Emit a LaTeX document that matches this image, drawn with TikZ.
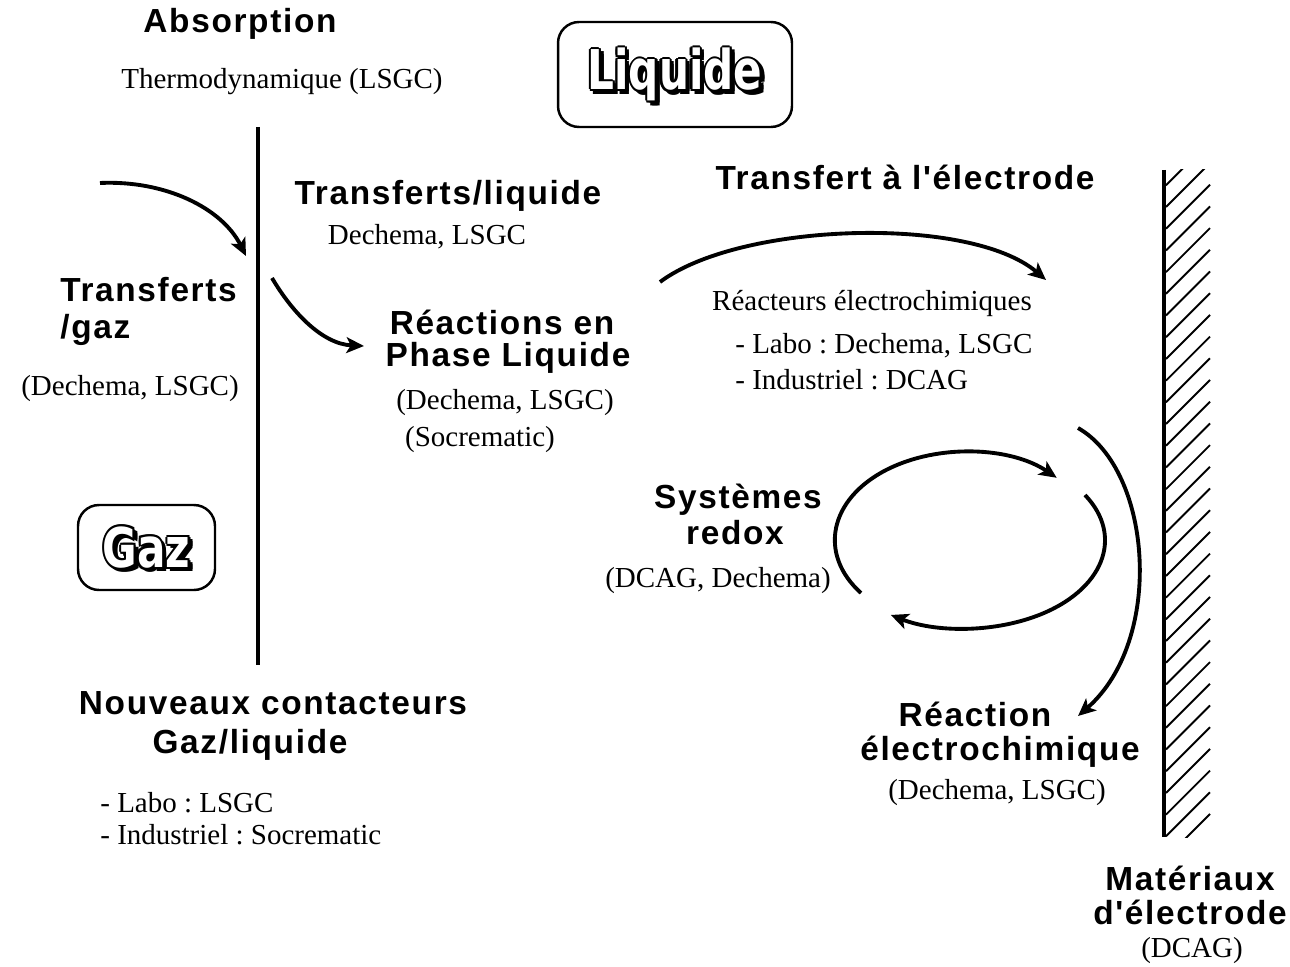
\documentclass[tikz,border=0pt]{standalone}
\usepackage{fontspec}
\usepackage{graphicx}
\setmainfont{Liberation Serif}
\newfontfamily\hdfont{Liberation Sans}[LetterSpace=5]
\newfontfamily\boxfont{DejaVu Sans}
\usetikzlibrary{arrows.meta}
\tikzset{>={Stealth[length=10pt,width=9pt,inset=2.5pt]}}
\tikzset{
  hd/.style={font=\hdfont\bfseries\fontsize{19}{21}\selectfont, inner sep=0pt},
  txt/.style={font=\fontsize{16.5}{18}\selectfont, inner sep=0pt, yshift=-1.5pt},
  flow/.style={->, line width=2.2pt},
  roundbox/.style={draw, line width=1.4pt, rounded corners=0.42cm},
  bigword/.style={font=\boxfont\bfseries\fontsize{24}{28}\selectfont, inner sep=0pt},
}
\newcommand{\tallword}[1]{\scalebox{1}[1.3]{#1}}
\frenchspacing

\begin{document}
\begin{tikzpicture}[x=0.02cm, y=-0.02cm]
    \useasboundingbox (0,0) rectangle (1290,966);

    % phase boxes
    \node[roundbox, minimum width=4.68cm, minimum height=2.1cm] (liqbox) at (675,74.5) {};
    \node[roundbox, minimum width=2.74cm, minimum height=1.7cm] (gazbox) at (146.5,547.5) {};
    \foreach \dx/\dy in {-1.3/0, 1.3/0, 0/1.3, 0/-1.3, -0.9/0.9, 0.9/0.9, -0.9/-0.9, 0.9/-0.9, 1.9/-1.9, 2.5/-2.5, 2.5/-1.3, 1.3/-2.5} {
        \node[bigword, xshift=\dx pt, yshift=\dy pt] at (liqbox) {\tallword{Liquide}};
        \node[bigword, xshift=\dx pt, yshift=\dy pt] at (gazbox) {\tallword{Gaz}};
    }
    \node[bigword, text=white] (liqword) at (liqbox) {\tallword{Liquide}};
    \node[bigword, text=white] (gazword) at (gazbox) {\tallword{Gaz}};

    % gas / liquid interface
    \coordinate (divtop) at (258,127);
    \coordinate (divbot) at (258,665);
    \draw [line width=2.2pt] (divtop) -- (divbot);

    % electrode wall
    \coordinate (eltop) at (1164,170);
    \coordinate (elbot) at (1164,837);
    \begin{scope}
        \clip (1164,170) rectangle (1212,837);
        \foreach \y in {858,836.3,...,150}
            \draw [line width=1.1pt] (1166,\y) -- (1210,\y-44);
    \end{scope}
    \draw [line width=2.8pt] (eltop) -- (elbot);

    % absorption side
    \node[hd] (absn) at (240,24) {Absorption};
    \node[txt] (thermo) at (282,79) {Thermodynamique (LSGC)};
    \node[hd] (trliq) at (448,196) {Transferts/liquide};
    \node[txt] (trliqsrc) at (427,234) {Dechema, LSGC};
    \node[hd, anchor=west] (trgaz) at (60,290) {Transferts};
    \node[hd, anchor=west] (trgaz2) at (60,330) {/gaz};
    \node[txt] (trgazsrc) at (130,386) {(Dechema, LSGC)};
    \node[hd] (reac) at (502,322) {Réactions en};
    \node[hd] (reac2) at (508,358) {Phase Liquide};
    \node[txt] (reacsrc) at (505,400) {(Dechema, LSGC)};
    \node[txt] (reacsrc2) at (480,437) {(Socrematic)};
    \node[hd] (contact) at (273,703) {Nouveaux contacteurs};
    \node[hd] (contact2) at (250,745) {Gaz/liquide};
    \node[txt, anchor=west] (labo1) at (100,800) {- Labo : LSGC};
    \node[txt, anchor=west] (indus1) at (100,832) {- Industriel : Socrematic};

    % electrode side
    \node[hd] (trel) at (905,177) {Transfert à l'électrode};
    \node[txt] (reacteurs) at (872,301) {Réacteurs électrochimiques};
    \node[txt, anchor=west] (labo2) at (735,343) {- Labo : Dechema, LSGC};
    \node[txt, anchor=west] (indus2) at (735,377) {- Industriel : DCAG};
    \node[hd] (redox) at (738,500) {Systèmes};
    \node[hd] (redox2) at (735,533) {redox};
    \node[txt] (redoxsrc) at (718,578) {(DCAG, Dechema)};
    \node[hd] (elreac) at (975,714) {Réaction};
    \node[hd] (elreac2) at (1000,752) {électrochimique};
    \node[txt] (elreacsrc) at (997,790) {(Dechema, LSGC)};
    \node[hd] (mat) at (1190,878) {Matériaux};
    \node[hd] (mat2) at (1190,912) {d'électrode};
    \node[txt] (matsrc) at (1192,948) {(DCAG)};

    % arrows
    \coordinate (gin) at (100,183);
    \coordinate (gout) at (246,256);
    \draw [flow] (gin) .. controls (165,180) and (222,208) .. (gout);
    \coordinate (lin) at (272,278);
    \coordinate (lout) at (364,346);
    \draw [flow] (lin) .. controls (292,312) and (322,344) .. (lout);
    \coordinate (ein) at (660,282);
    \coordinate (eout) at (1046,280);
    \draw [flow] (ein) .. controls (740,222) and (970,215) .. (eout);
    \coordinate (rin) at (1078,428);
    \coordinate (rout) at (1078,716);
    \draw [flow] (rin) .. controls (1152,470) and (1165,640) .. (rout);
    \coordinate (oxa) at (861,593);
    \coordinate (oxb) at (1085,495);
    \draw [flow] (oxa) arc [start angle=143, end angle=315, x radius=130, y radius=88];
    \draw [flow] (oxb) arc [start angle=-31, end angle=122, x radius=140, y radius=88];
\end{tikzpicture}
\end{document}
